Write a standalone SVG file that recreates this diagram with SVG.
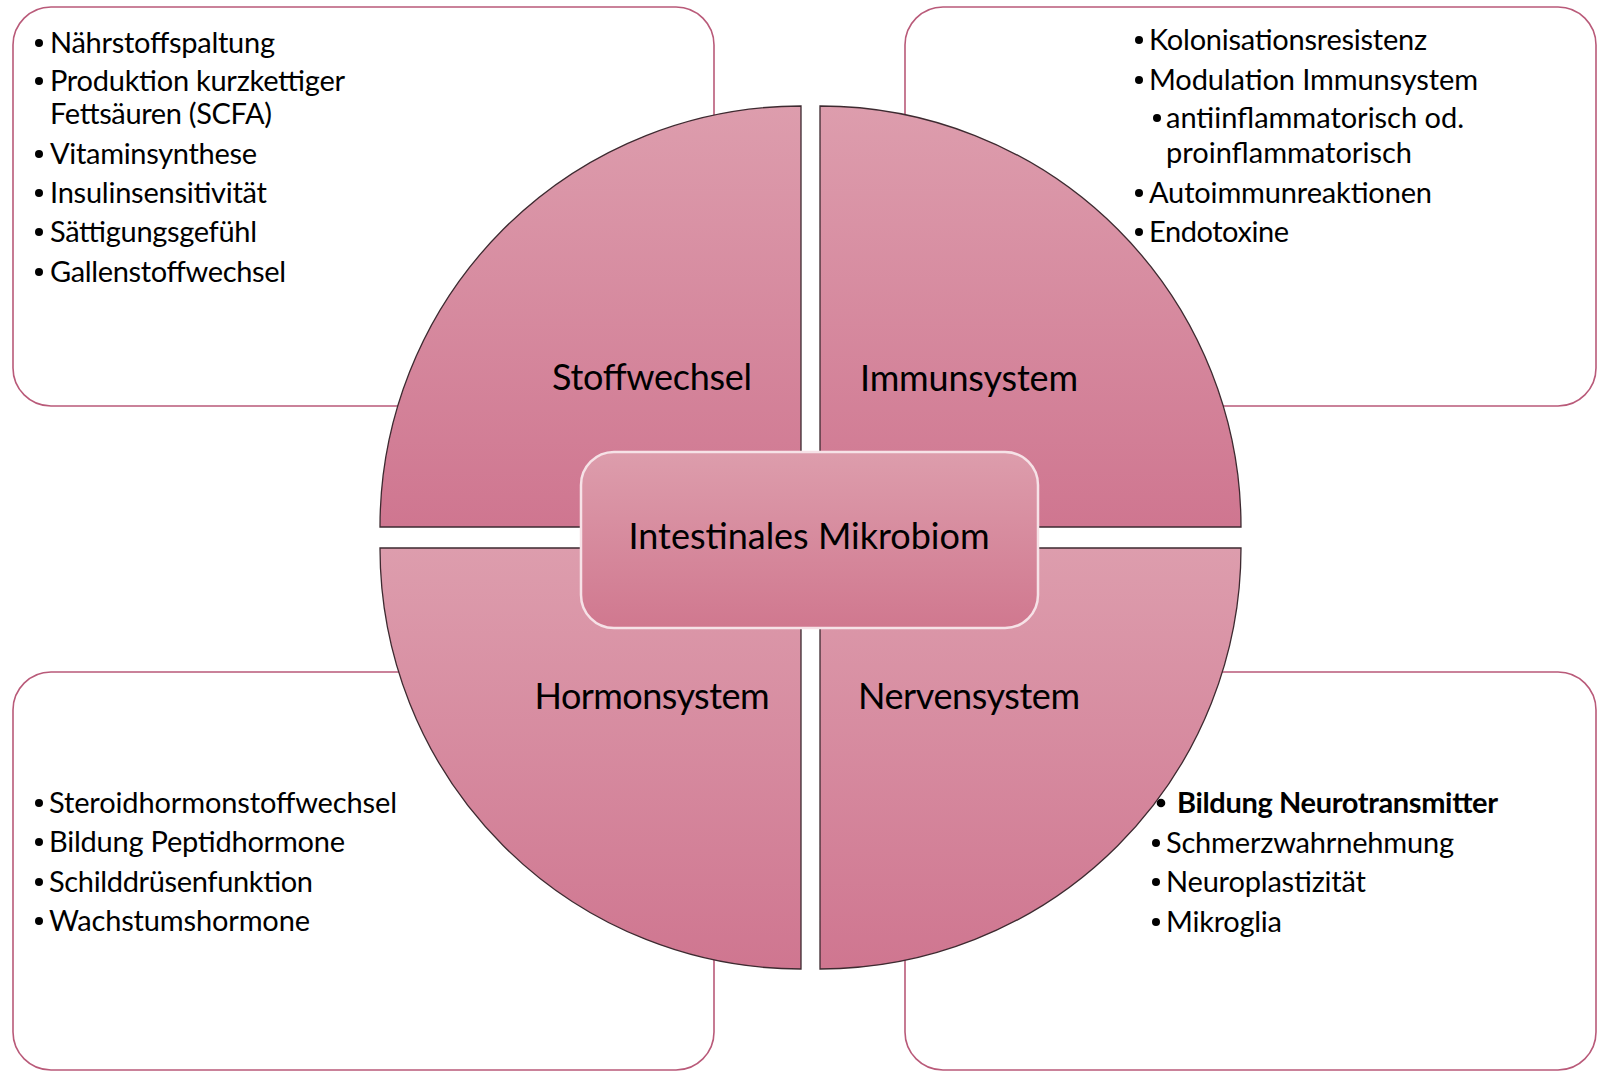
<svg xmlns="http://www.w3.org/2000/svg" width="1612" height="1080" viewBox="0 0 1612 1080">
<defs>
<linearGradient id="gq" x1="0" y1="0" x2="0" y2="1">
<stop offset="0" stop-color="#dd9dad"/>
<stop offset="1" stop-color="#cf7690"/>
</linearGradient>
<linearGradient id="gc" x1="0" y1="0" x2="0" y2="1">
<stop offset="0" stop-color="#dd9dac"/>
<stop offset="1" stop-color="#d0788f"/>
</linearGradient>
<style>
.box{fill:#ffffff;stroke:#b95a79;stroke-width:1.6}
.quad{fill:url(#gq);stroke:#3d2a30;stroke-width:1.3}
.center{fill:url(#gc);stroke:#f6e2e7;stroke-width:2.5}
.t{font-family:Lato,"Open Sans","Liberation Sans",sans-serif;font-size:29px;fill:#000}
.b{font-weight:bold}
.lbl{font-family:Lato,"Open Sans","Liberation Sans",sans-serif;font-size:36px;fill:#000;text-anchor:middle}
.dot{fill:#000}
</style>
</defs>
<rect width="1612" height="1080" fill="#ffffff"/>
<g id="box-stoffwechsel">
<rect class="box" x="13" y="7" width="701" height="399" rx="38"/>
<circle class="dot" cx="39" cy="43" r="4"/><text class="t" x="50" y="53" textLength="225">Nährstoffspaltung</text>
<circle class="dot" cx="39" cy="81" r="4"/><text class="t" x="50" y="91" textLength="295">Produktion kurzkettiger</text>
<text class="t" x="50" y="124" textLength="222">Fettsäuren (SCFA)</text>
<circle class="dot" cx="39" cy="154" r="4"/><text class="t" x="50" y="164" textLength="207">Vitaminsynthese</text>
<circle class="dot" cx="39" cy="193" r="4"/><text class="t" x="50" y="203" textLength="217">Insulinsensitivität</text>
<circle class="dot" cx="39" cy="232" r="4"/><text class="t" x="50" y="242" textLength="207">Sättigungsgefühl</text>
<circle class="dot" cx="39" cy="272" r="4"/><text class="t" x="50" y="282" textLength="236">Gallenstoffwechsel</text>
</g>
<g id="box-immunsystem">
<rect class="box" x="905" y="7" width="691" height="399" rx="38"/>
<circle class="dot" cx="1139" cy="40" r="4"/><text class="t" x="1149" y="50" textLength="278">Kolonisationsresistenz</text>
<circle class="dot" cx="1139" cy="80" r="4"/><text class="t" x="1149" y="90" textLength="329">Modulation Immunsystem</text>
<circle class="dot" cx="1157" cy="118" r="4"/><text class="t" x="1166" y="128" textLength="298">antiinflammatorisch od.</text>
<text class="t" x="1166" y="163" textLength="246">proinflammatorisch</text>
<circle class="dot" cx="1139" cy="193" r="4"/><text class="t" x="1149" y="203" textLength="283">Autoimmunreaktionen</text>
<circle class="dot" cx="1139" cy="232" r="4"/><text class="t" x="1149" y="242" textLength="140">Endotoxine</text>
</g>
<g id="box-hormonsystem">
<rect class="box" x="13" y="672" width="701" height="398" rx="38"/>
<circle class="dot" cx="39" cy="803" r="4"/><text class="t" x="49" y="813" textLength="348">Steroidhormonstoffwechsel</text>
<circle class="dot" cx="39" cy="842" r="4"/><text class="t" x="49" y="852" textLength="296">Bildung Peptidhormone</text>
<circle class="dot" cx="39" cy="882" r="4"/><text class="t" x="49" y="892" textLength="264">Schilddrüsenfunktion</text>
<circle class="dot" cx="39" cy="921" r="4"/><text class="t" x="49" y="931" textLength="261">Wachstumshormone</text>
</g>
<g id="box-nervensystem">
<rect class="box" x="905" y="672" width="691" height="398" rx="38"/>
<circle class="dot" cx="1161" cy="803" r="4.3"/><text class="t b" x="1177" y="813" textLength="321">Bildung Neurotransmitter</text>
<circle class="dot" cx="1156" cy="843" r="4"/><text class="t" x="1166" y="853" textLength="288">Schmerzwahrnehmung</text>
<circle class="dot" cx="1156" cy="882" r="4"/><text class="t" x="1166" y="892" textLength="200">Neuroplastizität</text>
<circle class="dot" cx="1156" cy="922" r="4"/><text class="t" x="1166" y="932" textLength="116">Mikroglia</text>
</g>
<g id="connectors"/>
<g id="q-stoffwechsel">
<path class="quad" d="M 801 527 L 380 527 A 421 421 0 0 1 801 106 Z"/>
<text class="lbl" x="652" y="390" textLength="200">Stoffwechsel</text>
</g>
<g id="q-immunsystem">
<path class="quad" d="M 820 527 L 820 106 A 421 421 0 0 1 1241 527 Z"/>
<text class="lbl" x="969" y="391" textLength="218">Immunsystem</text>
</g>
<g id="q-hormonsystem">
<path class="quad" d="M 801 548 L 801 969 A 421 421 0 0 1 380 548 Z"/>
<text class="lbl" x="652" y="709" textLength="235">Hormonsystem</text>
</g>
<g id="q-nervensystem">
<path class="quad" d="M 820 548 L 1241 548 A 421 421 0 0 1 820 969 Z"/>
<text class="lbl" x="969" y="709" textLength="222">Nervensystem</text>
</g>
<g id="center">
<rect class="center" x="581" y="452" width="457" height="176" rx="33"/>
<text class="lbl" x="809" y="549" textLength="361">Intestinales Mikrobiom</text>
</g>
</svg>
